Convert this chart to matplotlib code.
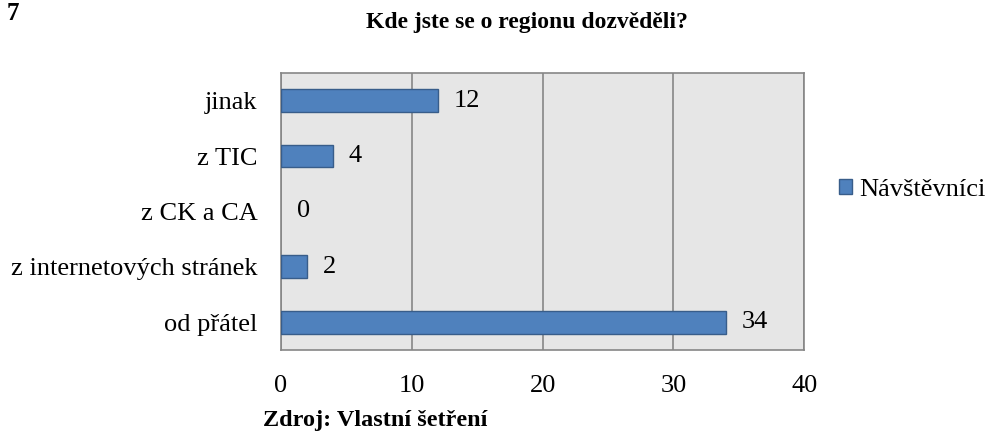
import matplotlib
matplotlib.use("Agg")
from matplotlib import pyplot as plt
from matplotlib.patches import Patch

categories = ['od přátel', 'z internetových stránek', 'z CK a CA', 'z TIC', 'jinak']
values = [34, 2, 0, 4, 12]
xticks = [0, 10, 20, 30, 40]

plt.rcParams['font.family'] = ['Liberation Serif', 'DejaVu Serif']

fig = plt.figure(figsize=(9.89, 4.32), dpi=100)
ax = fig.add_axes([0.2841, 0.190, 0.529, 0.641])
ax.set_facecolor('#e6e6e6')

ypos = list(range(len(categories)))
# zero-length bars get no outline, like in the original
widths = [1 if v > 0 else 0 for v in values]
ax.barh(ypos, values, height=0.41, color='#4f81bd', edgecolor='#385d8a', linewidth=widths, zorder=3)
for y, v in zip(ypos, values):
    ax.text(v + 1.2, y, str(v), va='center', ha='left', fontsize=19)

ax.set_xlim(0, 40)
ax.set_ylim(-0.5, len(categories) - 0.5)
ax.set_xticks(xticks)
ax.set_yticks(ypos)
ax.set_yticklabels(categories)
ax.tick_params(axis='both', length=0, labelsize=19)
ax.tick_params(axis='x', pad=18)
ax.tick_params(axis='y', pad=17)
ax.grid(axis='x', color='#868686', linewidth=1.2, zorder=1)
for s in ax.spines.values():
    s.set_color('#868686')
    s.set_linewidth(1.2)

fig.text(0.533, 1 - 28 / 432, 'Kde jste se o regionu dozvěděli?', ha='center', va='baseline',
         fontsize=17, fontweight='bold')
fig.text(7 / 989, 1 - 20 / 432, '7', ha='left', va='baseline', fontsize=18, fontweight='bold')
fig.text(263 / 989, 1 - 426 / 432, 'Zdroj: Vlastní šetření', ha='left', va='baseline',
         fontsize=17.5, fontweight='bold')

fig.legend(handles=[Patch(facecolor='#4f81bd', edgecolor='#385d8a', label='Návštěvníci')],
           loc='center left', bbox_to_anchor=(0.848, 0.56), frameon=False,
           fontsize=19, handlelength=0.5, handleheight=0.5, handletextpad=0.27,
           borderaxespad=0, borderpad=0)

fig.savefig('out.png', dpi=100)
